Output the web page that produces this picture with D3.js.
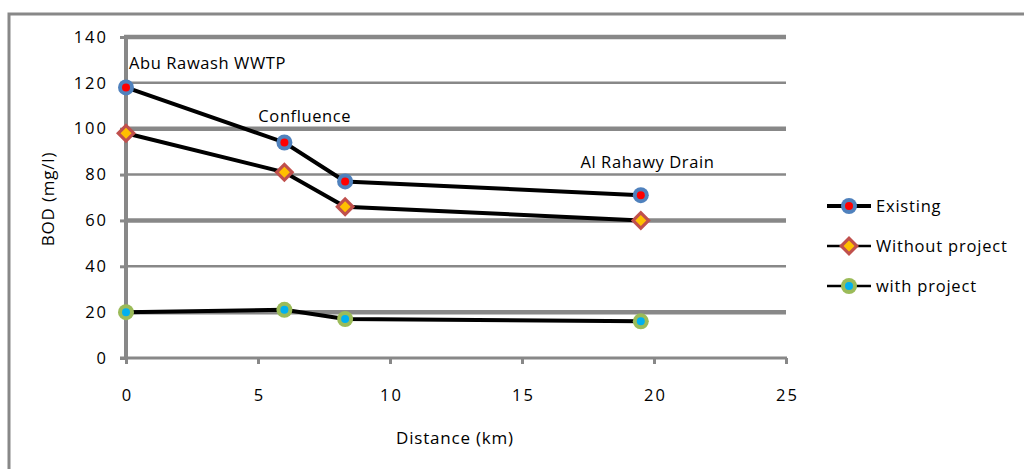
<!DOCTYPE html>
<html>
<head>
<meta charset="utf-8">
<script src="https://cdn.jsdelivr.net/npm/d3@7"></script>
<style>
  body { margin: 0; background: #fff; }
  text { font-family: "Open Sans", "Noto Sans", sans-serif; fill: #000; }
</style>
</head>
<body>
<svg id="chart"></svg>
<script>
// values
const distances = [0, 6, 8.3, 19.5];
const existing = [118, 94, 77, 71];
const withoutProject = [98, 81, 66, 60];
const withProject = [20, 21, 17, 16];
const seriesNames = ['Existing', 'Without project', 'with project'];
const yTicks = [0, 20, 40, 60, 80, 100, 120, 140];
const xTicks = [0, 5, 10, 15, 20, 25];
const notes = [
  {text: 'Abu Rawash WWTP', x: 0, y: 126},
  {text: 'Confluence', x: 4.9, y: 103},
  {text: 'Al Rahawy Drain', x: 17.1, y: 83}
];

function barChartLines(container) {
  const width = 1024;
  const height = 469;
  const margin = {top: 37, left: 126};
  const plotW = 660;
  const plotH = 321;

  const x = d3.scaleLinear().domain([0, 25]).range([0, plotW]);
  const y = d3.scaleLinear().domain([0, 140]).range([plotH, 0]);

  const svg = d3.select(container)
      .attr('width', width)
      .attr('height', height);

  // outer frame (right and bottom run off the page)
  svg.append('path')
      .attr('d', 'M9,470 V14 H1030')
      .attr('fill', 'none')
      .attr('stroke', '#888')
      .attr('stroke-width', 3);

  const chart = svg.append('g')
      .attr('transform', `translate(${margin.left},${margin.top})`);

  // gridlines, alternating weight like the source
  chart.selectAll('.grid')
      .data(yTicks.filter(d => d > 0))
    .enter().append('line')
      .attr('class', 'grid')
      .attr('x1', -2)
      .attr('x2', plotW)
      .attr('y1', d => y(d))
      .attr('y2', d => y(d))
      .attr('stroke', '#888')
      .attr('stroke-width', d => (d / 20) % 2 === 1 ? 4.5 : 2.5);

  const yAxis = d3.axisLeft(y)
      .tickValues(yTicks)
      .tickSize(6)
      .tickPadding(14)
      .tickFormat(d3.format('d'));

  const xAxis = d3.axisBottom(x)
      .tickValues(xTicks)
      .tickSize(6)
      .tickPadding(25);

  const gy = chart.append('g').call(yAxis);
  const gx = chart.append('g')
      .attr('transform', `translate(0,${plotH})`)
      .call(xAxis);

  [gx, gy].forEach(g => {
    g.select('.domain').remove();
    g.selectAll('line').attr('stroke', '#888').attr('stroke-width', 3);
    g.selectAll('text')
        .style('font-size', '16.5px')
        .style('letter-spacing', '2px')
        .attr('fill', '#000');
  });
  gy.selectAll('text').attr('dx', 2);
  gx.selectAll('text').attr('dx', 1);

  chart.append('line')
      .attr('x1', 0).attr('x2', 0)
      .attr('y1', -1).attr('y2', plotH)
      .attr('stroke', '#888')
      .attr('stroke-width', 4);
  chart.append('line')
      .attr('x1', -6).attr('x2', plotW + 1)
      .attr('y1', plotH).attr('y2', plotH)
      .attr('stroke', '#888')
      .attr('stroke-width', 3);

  // axis titles
  svg.append('text')
      .attr('transform', 'translate(54,199) rotate(-90)')
      .attr('text-anchor', 'middle')
      .style('font-size', '17px')
      .style('letter-spacing', '0.8px')
      .text('BOD (mg/l)');

  svg.append('text')
      .attr('x', 455)
      .attr('y', 444)
      .attr('text-anchor', 'middle')
      .style('font-size', '17px')
      .style('letter-spacing', '0.8px')
      .text('Distance (km)');

  // annotations
  chart.selectAll('.note')
      .data(notes)
    .enter().append('text')
      .attr('class', 'note')
      .attr('x', d => x(d.x) + 3)
      .attr('y', d => y(d.y))
      .style('font-size', '16.5px')
      .style('letter-spacing', '0.6px')
      .text(d => d.text);

  const series = [
    {name: seriesNames[0], values: existing, marker: 'circle', outer: '#4F81BD', inner: '#FF0000'},
    {name: seriesNames[1], values: withoutProject, marker: 'diamond', outer: '#C0504D', inner: '#FFC000'},
    {name: seriesNames[2], values: withProject, marker: 'circle', outer: '#9BBB59', inner: '#00B0F0'}
  ];

  const line = d3.line()
      .x(d => x(d[0]))
      .y(d => y(d[1]));

  const drawMarker = (g, s) => {
    if (s.marker === 'circle') {
      g.append('circle').attr('r', 8).attr('fill', s.outer);
      g.append('circle').attr('r', 4).attr('fill', s.inner);
    } else {
      g.append('path').attr('d', 'M0,-10L10,0L0,10L-10,0Z').attr('fill', s.outer);
      g.append('path').attr('d', 'M0,-5.5L5.5,0L0,5.5L-5.5,0Z').attr('fill', s.inner);
    }
  };

  series.forEach(s => {
    const pts = distances.map((d, i) => [d, s.values[i]]);
    chart.append('path')
        .datum(pts)
        .attr('fill', 'none')
        .attr('stroke', '#000')
        .attr('stroke-width', 4)
        .attr('d', line);

    pts.forEach(p => {
      const g = chart.append('g')
          .attr('transform', `translate(${x(p[0])},${y(p[1])})`);
      drawMarker(g, s);
    });
  });

  // legend
  const legend = svg.append('g')
      .attr('transform', 'translate(827,206)');

  series.forEach((s, i) => {
    const g = legend.append('g')
        .attr('transform', `translate(0,${i * 40})`);
    g.append('line')
        .attr('x1', 0).attr('x2', 44)
        .attr('stroke', '#000')
        .attr('stroke-width', i === 0 ? 4 : 2.5);
    drawMarker(g.append('g').attr('transform', 'translate(22,0)'), s);
    g.append('text')
        .attr('x', 49)
        .attr('y', 6)
        .style('font-size', '16.5px')
        .style('letter-spacing', '0.8px')
        .text(s.name);
  });
}

barChartLines('#chart');
</script>
</body>
</html>
